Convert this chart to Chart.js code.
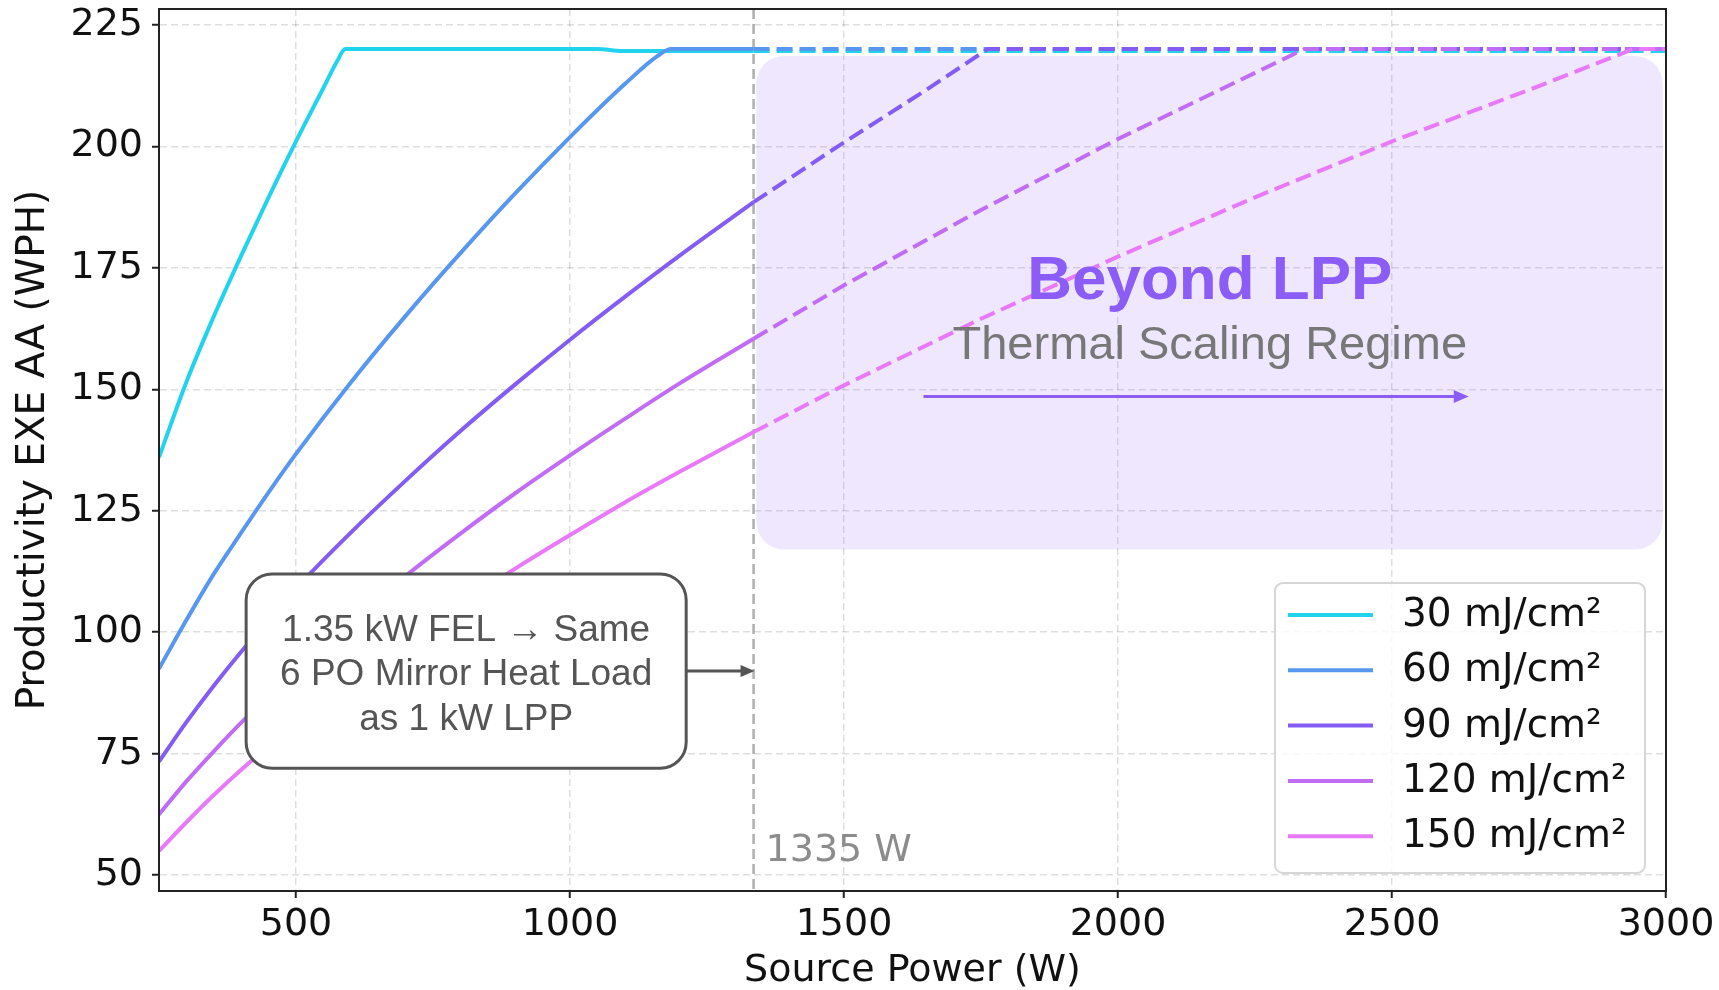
<!DOCTYPE html>
<html>
<head>
<meta charset="utf-8">
<title>Productivity EXE AA vs Source Power</title>
<script src="https://cdn.jsdelivr.net/npm/chart.js@4.4.1/dist/chart.umd.min.js"></script>
<style>
    html, body { margin: 0; padding: 0; background: #fff; }
    #wrap { width: 1719px; height: 990px; }
</style>
</head>
<body>
<div id="wrap"><canvas id="powerChart" width="1719" height="990"></canvas></div>
<script>
// Dose series (legend order)
const doseLabels = ['30 mJ/cm²', '60 mJ/cm²', '90 mJ/cm²', '120 mJ/cm²', '150 mJ/cm²'];

// [source power (W), productivity (WPH)]
// solid part: up to the 1335 W FEL mark, dashed part: beyond it
const dose30Solid = [[250, 136], [300, 151.5], [350, 165], [400, 177.5], [450, 189.5], [500, 201], [550, 212], [575, 217.5], [590, 220], [1050, 220], [1095, 219.6], [1335, 219.6]];
const dose30Dashed = [[1335, 219.6], [3000, 219.6]];

const dose60Solid = [[250, 92.5], [300, 102.5], [350, 112], [400, 120.5], [450, 128.8], [500, 136.7], [600, 151.4], [700, 165.1], [800, 178], [900, 190.3], [1000, 201.9], [1100, 212.8], [1160, 218.6], [1185, 220], [1335, 220]];
const dose60Dashed = [[1335, 220], [3000, 220]];

const dose90Solid = [[250, 73.4], [300, 81.5], [350, 89], [400, 96], [500, 109], [600, 120.5], [700, 131.2], [800, 141.4], [900, 151], [1000, 160.2], [1100, 169], [1200, 177.5], [1335, 188.5]];
const dose90Dashed = [[1335, 188.5], [1500, 200.8], [1650, 211.6], [1762, 220], [3000, 220]];

const dose120Solid = [[250, 62.5], [300, 69.3], [350, 75.5], [400, 81.4], [500, 92.3], [600, 102.3], [700, 111.6], [800, 120.3], [900, 128.6], [1000, 136.4], [1100, 143.9], [1200, 151.2], [1335, 160.4]];
const dose120Dashed = [[1335, 160.4], [1500, 171.4], [1750, 186.9], [2000, 201.5], [2250, 215.1], [2340, 220], [3000, 220]];

const dose150Solid = [[250, 55], [300, 60.9], [350, 66.5], [400, 71.7], [500, 81.3], [600, 90], [700, 98.2], [800, 105.9], [900, 113.1], [1000, 120], [1100, 126.7], [1200, 133], [1335, 141.2]];
const dose150Dashed = [[1335, 141.2], [1500, 150.8], [1750, 164.5], [2000, 177.3], [2250, 189.5], [2500, 201], [2750, 211.6], [2940, 220], [3000, 220]];

const felMarkW = 1335;
const xTickValues = [500, 1000, 1500, 2000, 2500, 3000];
const yTickValues = [50, 75, 100, 125, 150, 175, 200, 225];

const doseColors = ['#22d3ee', '#5897ef', '#835cf4', '#c06cf5', '#e879f9'];
const solidSets = [dose30Solid, dose60Solid, dose90Solid, dose120Solid, dose150Solid];
const dashedSets = [dose30Dashed, dose60Dashed, dose90Dashed, dose120Dashed, dose150Dashed];

const toXY = pts => pts.map(p => ({ x: p[0], y: p[1] }));

const datasets = [];
doseLabels.forEach((label, i) => {
    datasets.push({
        label: label,
        data: toXY(solidSets[i]),
        borderColor: doseColors[i],
        borderWidth: 4,
        pointRadius: 0,
        fill: false,
        cubicInterpolationMode: 'monotone',
        order: 20 - i * 2
    });
    datasets.push({
        label: label,
        beyond: true,
        data: toXY(dashedSets[i]),
        borderColor: doseColors[i],
        borderWidth: 4,
        borderDash: [16, 7],
        pointRadius: 0,
        fill: false,
        tension: 0,
        order: 19 - i * 2
    });
});

function roundedRect(ctx, x, y, w, h, r) {
    ctx.beginPath();
    ctx.moveTo(x + r, y);
    ctx.arcTo(x + w, y, x + w, y + h, r);
    ctx.arcTo(x + w, y + h, x, y + h, r);
    ctx.arcTo(x, y + h, x, y, r);
    ctx.arcTo(x, y, x + w, y, r);
    ctx.closePath();
}

function arrowRight(ctx, x1, x2, yy, color, width, headLen, headW) {
    ctx.strokeStyle = color;
    ctx.fillStyle = color;
    ctx.lineWidth = width;
    ctx.setLineDash([]);
    ctx.beginPath();
    ctx.moveTo(x1, yy);
    ctx.lineTo(x2 - headLen + 1, yy);
    ctx.stroke();
    ctx.beginPath();
    ctx.moveTo(x2, yy);
    ctx.lineTo(x2 - headLen, yy - headW / 2);
    ctx.lineTo(x2 - headLen, yy + headW / 2);
    ctx.closePath();
    ctx.fill();
}

const overlayPlugin = {
    id: 'overlay',
    beforeDatasetsDraw(chart) {
        const { ctx, chartArea, scales: { x, y } } = chart;
        ctx.save();
        // "Beyond LPP" shaded regime
        const rx1 = x.getPixelForValue(1340), rx2 = x.getPixelForValue(2994);
        const ry1 = y.getPixelForValue(218.6), ry2 = y.getPixelForValue(117);
        ctx.fillStyle = 'rgba(139, 92, 246, 0.15)';
        roundedRect(ctx, rx1, ry1, rx2 - rx1, ry2 - ry1, 28);
        ctx.fill();

        // FEL marker line
        const fx = x.getPixelForValue(felMarkW);
        ctx.strokeStyle = 'rgba(160, 160, 160, 0.85)';
        ctx.lineWidth = 2.5;
        ctx.setLineDash([10, 5]);
        ctx.beginPath();
        ctx.moveTo(fx, chartArea.top);
        ctx.lineTo(fx, chartArea.bottom);
        ctx.stroke();
        ctx.restore();
    },
    afterDatasetsDraw(chart) {
        const { ctx, chartArea, scales: { x, y } } = chart;
        ctx.save();

        // Regime labels
        const cx = x.getPixelForValue((felMarkW + 3000) / 2);
        ctx.textAlign = 'center';
        ctx.textBaseline = 'middle';
        ctx.fillStyle = '#8b5cf6';
        ctx.font = 'bold 62px "Liberation Sans", Arial, sans-serif';
        ctx.fillText('Beyond LPP', cx, y.getPixelForValue(172.5) + 2);
        ctx.fillStyle = '#777777';
        ctx.font = '47px "Liberation Sans", Arial, sans-serif';
        ctx.fillText('Thermal Scaling Regime', cx, y.getPixelForValue(159.5) + 3);
        arrowRight(ctx, x.getPixelForValue(1645), x.getPixelForValue(2640), y.getPixelForValue(148.5), '#8b5cf6', 3, 15, 13);

        // Annotation box
        const bx1 = x.getPixelForValue(409), bx2 = x.getPixelForValue(1212);
        const by1 = y.getPixelForValue(112), by2 = y.getPixelForValue(72);
        ctx.fillStyle = '#ffffff';
        ctx.strokeStyle = '#555555';
        ctx.lineWidth = 3;
        ctx.setLineDash([]);
        roundedRect(ctx, bx1, by1, bx2 - bx1, by2 - by1, 26);
        ctx.fill();
        ctx.stroke();
        ctx.fillStyle = '#555555';
        ctx.font = '37px "Liberation Sans", Arial, sans-serif';
        const bcx = (bx1 + bx2) / 2;
        const bcy = (by1 + by2) / 2 + 4;
        ctx.fillText('1.35 kW FEL \u2192 Same', bcx, bcy - 44);
        ctx.fillText('6 PO Mirror Heat Load', bcx, bcy);
        ctx.fillText('as 1 kW LPP', bcx, bcy + 44.5);
        arrowRight(ctx, bx2, x.getPixelForValue(felMarkW) + 1, y.getPixelForValue(92), '#555555', 3, 14, 12);

        // FEL mark label
        ctx.textAlign = 'left';
        ctx.textBaseline = 'alphabetic';
        ctx.fillStyle = '#8c8c8c';
        ctx.font = '38px "DejaVu Sans", sans-serif';
        ctx.fillText('1335 W', x.getPixelForValue(felMarkW) + 12, y.getPixelForValue(52.9));

        // Axes frame
        ctx.strokeStyle = '#222222';
        ctx.lineWidth = 2;
        ctx.strokeRect(chartArea.left, chartArea.top, chartArea.right - chartArea.left, chartArea.bottom - chartArea.top);

        // Legend (matplotlib style, lower right inside axes)
        const entries = chart.data.datasets.filter(ds => !ds.beyond);
        const lgW = 370, lgH = 290;
        const lgX = chartArea.right - 21 - lgW;
        const lgY = chartArea.bottom - 18 - lgH;
        ctx.fillStyle = 'rgba(255, 255, 255, 0.8)';
        ctx.strokeStyle = '#d6d6d6';
        ctx.lineWidth = 2;
        roundedRect(ctx, lgX, lgY, lgW, lgH, 8);
        ctx.fill();
        ctx.stroke();
        ctx.font = '39px "DejaVu Sans", sans-serif';
        ctx.textBaseline = 'middle';
        entries.forEach((ds, i) => {
            const ry = lgY + 32 + i * 55.3;
            ctx.strokeStyle = ds.borderColor;
            ctx.lineWidth = 4;
            ctx.beginPath();
            ctx.moveTo(lgX + 13, ry);
            ctx.lineTo(lgX + 98, ry);
            ctx.stroke();
            ctx.fillStyle = '#111111';
            ctx.fillText(ds.label, lgX + 127, ry + 1);
        });
        ctx.restore();
    }
};

Chart.defaults.font.family = '"DejaVu Sans", sans-serif';
Chart.defaults.color = '#111111';

const ctx = document.getElementById('powerChart').getContext('2d');
new Chart(ctx, {
    type: 'line',
    data: { datasets: datasets },
    options: {
        responsive: false,
        animation: false,
        devicePixelRatio: 1,
        layout: { padding: { top: 9, right: 53, left: 0, bottom: 0 } },
        plugins: {
            legend: { display: false },
            tooltip: { enabled: false }
        },
        scales: {
            x: {
                type: 'linear',
                min: 250,
                max: 3000,
                afterBuildTicks: axis => { axis.ticks = xTickValues.map(v => ({ value: v })); },
                afterFit: scale => {
                    scale.height = 99;
                    scale.paddingLeft = 0;
                    scale.paddingRight = 0;
                },
                ticks: { font: { size: 38 }, color: '#111', padding: 4, maxRotation: 0, callback: v => String(v) },
                grid: { color: 'rgba(0, 0, 0, 0.13)', lineWidth: 1.5, tickLength: 7, tickColor: '#222', tickWidth: 2, tickBorderDash: [] },
                border: { display: true, color: '#222', width: 2, dash: [7, 4] },
                title: { display: true, text: 'Source Power (W)', font: { size: 38, lineHeight: 1.0 }, color: '#111', padding: { top: 0, bottom: 0 } }
            },
            y: {
                min: 46.75,
                max: 228.25,
                afterBuildTicks: axis => { axis.ticks = yTickValues.map(v => ({ value: v })); },
                afterFit: scale => {
                    scale.width = 159;
                    scale.paddingTop = 0;
                    scale.paddingBottom = 0;
                },
                ticks: { font: { size: 38 }, color: '#111', padding: 9, callback: v => String(v) },
                grid: { color: 'rgba(0, 0, 0, 0.13)', lineWidth: 1.5, tickLength: 7, tickColor: '#222', tickWidth: 2, tickBorderDash: [] },
                border: { display: true, color: '#222', width: 2, dash: [7, 4] },
                title: { display: true, text: 'Productivity EXE AA (WPH)', font: { size: 39 }, color: '#111', padding: { top: 10, bottom: 0 } }
            }
        }
    },
    plugins: [overlayPlugin]
});
</script>
</body>
</html>
